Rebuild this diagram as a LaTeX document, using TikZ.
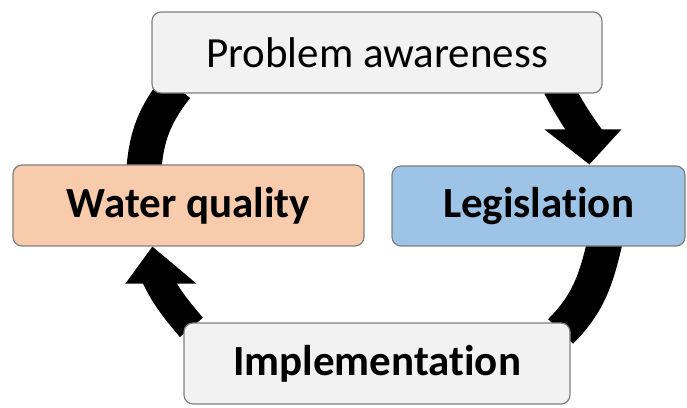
\documentclass[tikz,border=0pt]{standalone}
\usepackage{fontspec}
\setmainfont{Carlito}[Ligatures=NoCommon]
\pgfdeclarelayer{bg}
\pgfsetlayers{bg,main}
\definecolor{peach}{HTML}{F8CBAD}
\definecolor{sky}{HTML}{9DC3E6}
\definecolor{pale}{HTML}{F2F2F2}
\definecolor{rim}{HTML}{7F7F7F}
\begin{document}
\begin{tikzpicture}[x=1pt,y=1pt,
  box/.style={draw=rim, line width=1.2pt, rounded corners=9pt, minimum height=81pt,
    inner sep=0pt, text=black, font=\fontsize{43}{50}\selectfont},
  band/.style={line width=35pt, black},
  shaft/.style={line width=30pt, black},
  headfill/.style={fill=black}]
\useasboundingbox (0,0) rectangle (687,407);
\node[box, fill=pale, minimum width=450pt] (pa) at (377,354.5) {Problem awareness};
\node[box, fill=peach, minimum width=351pt] (wq) at (188.5,201.5) {\bfseries Water quality};
\node[box, fill=sky, minimum width=293pt, minimum height=80pt] (leg) at (538.5,201) {\bfseries Legislation};
\node[box, fill=pale, minimum width=386pt] (impl) at (377,43.5) {\bfseries Implementation};
\begin{pgfonlayer}{bg}
% Water quality -> Problem awareness
\draw[band] ([shift={(131.5,-5)}]wq.north west) to[out=85.5,in=231.9] ([shift={(24.9,6.3)}]pa.south west);
% Problem awareness -> Legislation
\draw[shaft] ([shift={(-45,7)}]pa.south east) to[out=298,in=126] ([shift={(202.7,21)}]leg.north west);
\fill[headfill] ([shift={(153,36)}]leg.north west) -- ([shift={(230,36)}]leg.north west) -- ([shift={(198,1)}]leg.north west) -- cycle;
% Legislation -> Implementation
\draw[band] ([shift={(213.8,6)}]leg.south west) to[out=257,in=45] ([shift={(-10,-9)}]impl.north east);
% Implementation -> Water quality
\draw[shaft] ([shift={(8,-5)}]impl.north west) to[out=130,in=294] ([shift={(141.6,-25)}]wq.south west);
\fill[headfill] ([shift={(113,-37)}]wq.south west) -- ([shift={(184,-37)}]wq.south west) -- ([shift={(140,0)}]wq.south west) -- cycle;
\end{pgfonlayer}
\end{tikzpicture}
\end{document}
